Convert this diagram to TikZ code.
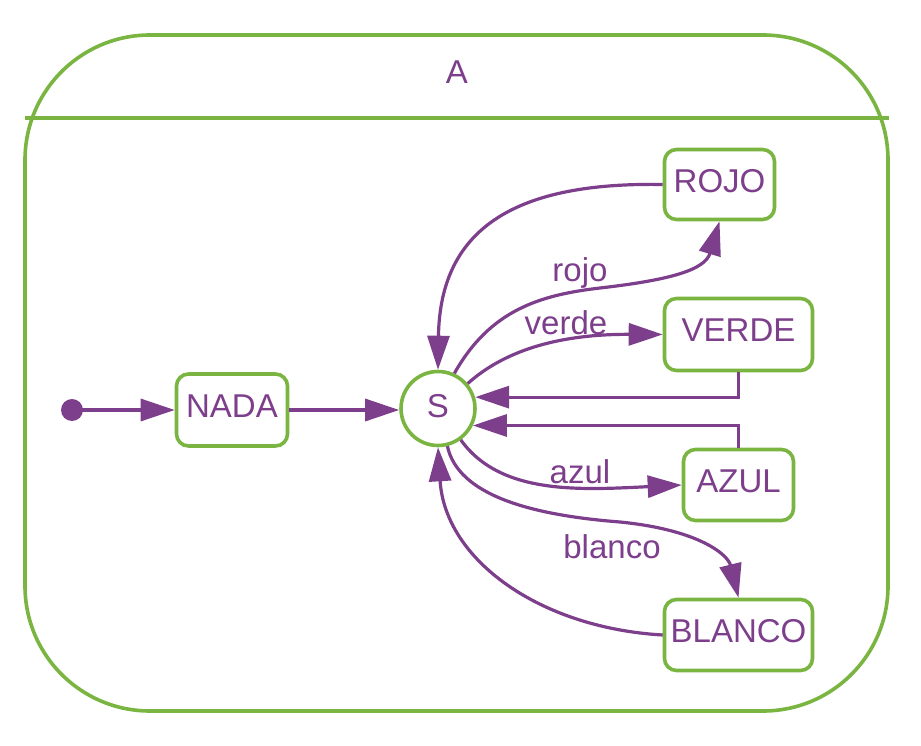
\documentclass[tikz,border=0pt]{standalone}
\usepackage{fontspec}
\setmainfont{Liberation Sans}
\usetikzlibrary{arrows.meta}
\definecolor{sgreen}{RGB}{122,181,66}
\definecolor{spurple}{RGB}{125,62,139}
\begin{document}
\begin{tikzpicture}[x=1pt,y=-1pt,
  every node/.style={font=\fontsize{33}{40}\selectfont, text=spurple},
  statebox/.style={draw=sgreen, line width=3.6pt, rounded corners=12pt, fill=white, inner sep=0pt, text depth=8pt},
  statecirc/.style={circle, draw=sgreen, line width=3.6pt, minimum size=74pt, inner sep=0pt, fill=white, text depth=6pt},
  conn/.style={draw=spurple, line width=3.2pt, -{Triangle[length=34pt,width=22pt]}},
  lbl/.style={inner sep=0pt}]
\useasboundingbox (0,0) rectangle (921,746);
% outer composite state
\draw[sgreen, line width=3.6pt, rounded corners=125pt] (25,35) rectangle (888,711);
\draw[sgreen, line width=3.6pt] (25,118) -- (889,118);
\node[lbl] (title) at (457,72) {A};
% states
\fill[spurple] (72,410) circle (11pt);
\coordinate (init) at (72,410);
\node[statebox, minimum width=111pt, minimum height=72pt] (nada) at (232,410) {NADA};
\node[statecirc] (s) at (438,408.5) {S};
\node[statebox, minimum width=110pt, minimum height=70pt] (rojo) at (719.5,184.5) {ROJO};
\node[statebox, minimum width=148pt, minimum height=72pt] (verde) at (738.5,334.5) {VERDE};
\node[statebox, minimum width=110pt, minimum height=71pt] (azul) at (738.5,485) {AZUL};
\node[statebox, minimum width=148pt, minimum height=71pt] (blanco) at (738.5,635) {BLANCO};
% connectors
\draw[conn] (init) -- (nada.west);
\draw[conn] (nada.east) -- (nada.east -| s.west);
\draw[conn] (rojo.west) .. controls (520,182) and (440,225) .. (s.north);
\draw[conn] (s.65) .. controls (490,310) and (540,295) .. (600,288)
  .. controls (670,280) and (705,270) .. (rojo.south);
\draw[conn] (s.40) .. controls (505,350) and (560,334) .. (verde.west);
\draw[conn] (verde.south) |- (s.17);
\draw[conn] (azul.north) |- (s.-26.2);
\draw[conn] (s.-54) .. controls (500,495) and (580,490) .. (azul.west);
\draw[conn] (s.-76) .. controls (458,495) and (530,515) .. (620,522)
  .. controls (700,530) and (728,555) .. (blanco.north);
\draw[conn] (blanco.west) .. controls (540,628) and (445,560) .. (s.south);
% labels
\node[lbl] (lrojo) at (580,273) {rojo};
\node[lbl] (lverde) at (566,323) {verde};
\node[lbl] (lazul) at (580,472) {azul};
\node[lbl] (lblanco) at (612,547) {blanco};
\end{tikzpicture}
\end{document}
